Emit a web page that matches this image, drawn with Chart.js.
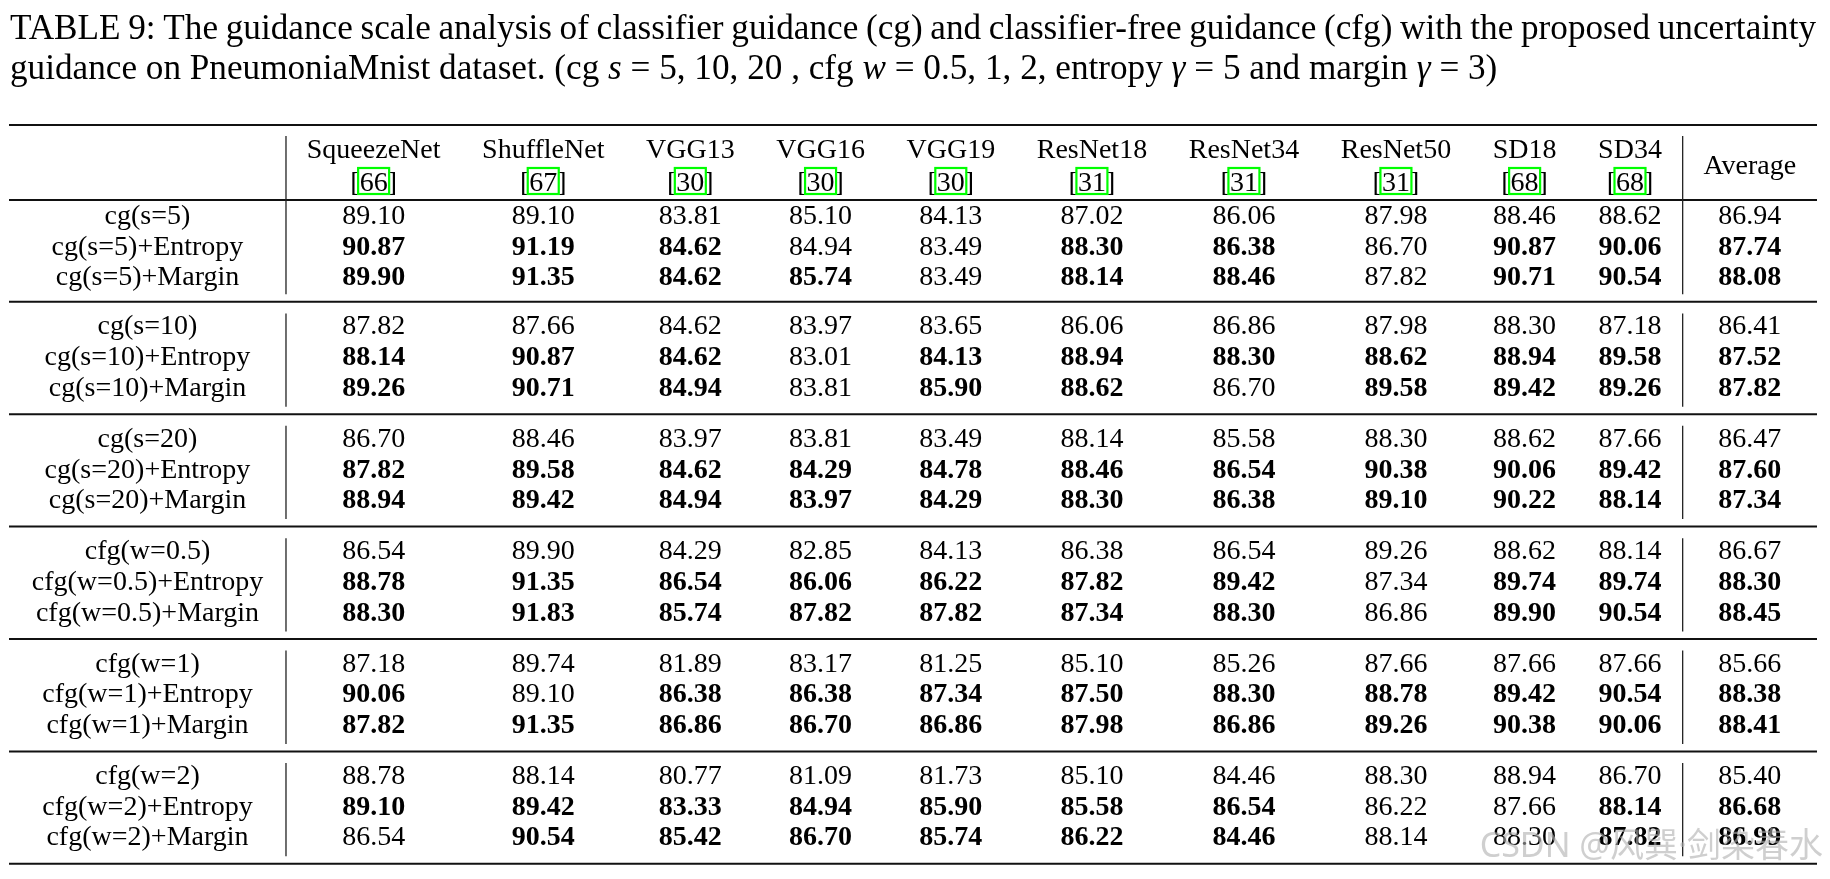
<!DOCTYPE html>
<html>
<head>
<meta charset="utf-8">
<script src="https://cdn.jsdelivr.net/npm/chart.js@4.4.1/dist/chart.umd.min.js"></script>
<style>
  html, body { margin: 0; padding: 0; background: #fff; }
  #wrap { width: 1830px; height: 879px; position: relative; }
</style>
</head>
<body>
<div id="wrap"><canvas id="tableChart"></canvas></div>
<script>
// Column headers: model name and citation number, then the average column
const models = ['SqueezeNet', 'ShuffleNet', 'VGG13', 'VGG16', 'VGG19', 'ResNet18', 'ResNet34', 'ResNet50', 'SD18', 'SD34'];
const refs = ['66', '67', '30', '30', '30', '31', '31', '31', '68', '68'];
const avgLabel = 'Average';

// Row labels, one group per guidance setting
const groupLabels = [
  ['cg(s=5)', 'cg(s=5)+Entropy', 'cg(s=5)+Margin'],
  ['cg(s=10)', 'cg(s=10)+Entropy', 'cg(s=10)+Margin'],
  ['cg(s=20)', 'cg(s=20)+Entropy', 'cg(s=20)+Margin'],
  ['cfg(w=0.5)', 'cfg(w=0.5)+Entropy', 'cfg(w=0.5)+Margin'],
  ['cfg(w=1)', 'cfg(w=1)+Entropy', 'cfg(w=1)+Margin'],
  ['cfg(w=2)', 'cfg(w=2)+Entropy', 'cfg(w=2)+Margin']
];

// Accuracy (%) for the 10 models, last value is the average
const cgS5 = [
  [89.10, 89.10, 83.81, 85.10, 84.13, 87.02, 86.06, 87.98, 88.46, 88.62, 86.94],
  [90.87, 91.19, 84.62, 84.94, 83.49, 88.30, 86.38, 86.70, 90.87, 90.06, 87.74],
  [89.90, 91.35, 84.62, 85.74, 83.49, 88.14, 88.46, 87.82, 90.71, 90.54, 88.08]
];
const cgS10 = [
  [87.82, 87.66, 84.62, 83.97, 83.65, 86.06, 86.86, 87.98, 88.30, 87.18, 86.41],
  [88.14, 90.87, 84.62, 83.01, 84.13, 88.94, 88.30, 88.62, 88.94, 89.58, 87.52],
  [89.26, 90.71, 84.94, 83.81, 85.90, 88.62, 86.70, 89.58, 89.42, 89.26, 87.82]
];
const cgS20 = [
  [86.70, 88.46, 83.97, 83.81, 83.49, 88.14, 85.58, 88.30, 88.62, 87.66, 86.47],
  [87.82, 89.58, 84.62, 84.29, 84.78, 88.46, 86.54, 90.38, 90.06, 89.42, 87.60],
  [88.94, 89.42, 84.94, 83.97, 84.29, 88.30, 86.38, 89.10, 90.22, 88.14, 87.34]
];
const cfgW05 = [
  [86.54, 89.90, 84.29, 82.85, 84.13, 86.38, 86.54, 89.26, 88.62, 88.14, 86.67],
  [88.78, 91.35, 86.54, 86.06, 86.22, 87.82, 89.42, 87.34, 89.74, 89.74, 88.30],
  [88.30, 91.83, 85.74, 87.82, 87.82, 87.34, 88.30, 86.86, 89.90, 90.54, 88.45]
];
const cfgW1 = [
  [87.18, 89.74, 81.89, 83.17, 81.25, 85.10, 85.26, 87.66, 87.66, 87.66, 85.66],
  [90.06, 89.10, 86.38, 86.38, 87.34, 87.50, 88.30, 88.78, 89.42, 90.54, 88.38],
  [87.82, 91.35, 86.86, 86.70, 86.86, 87.98, 86.86, 89.26, 90.38, 90.06, 88.41]
];
const cfgW2 = [
  [88.78, 88.14, 80.77, 81.09, 81.73, 85.10, 84.46, 88.30, 88.94, 86.70, 85.40],
  [89.10, 89.42, 83.33, 84.94, 85.90, 85.58, 86.54, 86.22, 87.66, 88.14, 86.68],
  [86.54, 90.54, 85.42, 86.70, 85.74, 86.22, 84.46, 88.14, 88.30, 87.82, 86.99]
];

// Column indices printed in bold, per row
const boldS5 = [[], [0, 1, 2, 5, 6, 8, 9, 10], [0, 1, 2, 3, 5, 6, 8, 9, 10]];
const boldS10 = [[], [0, 1, 2, 4, 5, 6, 7, 8, 9, 10], [0, 1, 2, 4, 5, 7, 8, 9, 10]];
const boldS20 = [[], [0, 1, 2, 3, 4, 5, 6, 7, 8, 9, 10], [0, 1, 2, 3, 4, 5, 6, 7, 8, 9, 10]];
const boldW05 = [[], [0, 1, 2, 3, 4, 5, 6, 8, 9, 10], [0, 1, 2, 3, 4, 5, 6, 8, 9, 10]];
const boldW1 = [[], [0, 2, 3, 4, 5, 6, 7, 8, 9, 10], [0, 1, 2, 3, 4, 5, 6, 7, 8, 9, 10]];
const boldW2 = [[], [0, 1, 2, 3, 4, 5, 6, 9, 10], [1, 2, 3, 4, 5, 6, 9, 10]];

const groupValues = [cgS5, cgS10, cgS20, cfgW05, cfgW1, cfgW2];
const groupBold = [boldS5, boldS10, boldS20, boldW05, boldW1, boldW2];

const titleLine1 = 'TABLE 9: The guidance scale analysis of classifier guidance (cg) and classifier-free guidance (cfg) with the proposed uncertainty';
// [text, italic]
const titleLine2 = [
  ['guidance on PneumoniaMnist dataset. (cg ', false], ['s', true], [' = 5, 10, 20 , cfg ', false], ['w', true],
  [' = 0.5, 1, 2, entropy ', false], ['\u03B3', true], [' = 5 and margin ', false], ['\u03B3', true], [' = 3)', false]
];
const watermark = 'CSDN @风巽·剑染春水';

// ---- layout (pixels) ----
const W = 1830, H = 879;
const SERIF = '"Liberation Serif", "Times New Roman", serif';
const FONT = 28;
const TABLE_LEFT = 9, TABLE_RIGHT = 1817;
const TOP_RULE = 125, HEADER_RULE = 200;
const ROW_PITCH = 30.7;
const FIRST_OFFSET = 24, FIRST_GROUP_H = 101.8;
const GROUP_OFFSET = 32.6, GROUP_TAIL = 18.4;
const LABEL_EXTRA = 4;

const measureCtx = document.createElement('canvas').getContext('2d');
function textWidth(str, size, style) {
  measureCtx.font = (style || '') + ' ' + size + 'px ' + SERIF;
  return measureCtx.measureText(str).width;
}

// column widths like a LaTeX tabular: widest cell + 2 * tabcolsep
const rowLabels = groupLabels.flat();
const colContent = [Math.max(...rowLabels.map(s => textWidth(s, FONT))) + LABEL_EXTRA];
models.forEach((m, j) => colContent.push(Math.max(textWidth(m, FONT), textWidth('[' + refs[j] + ']', FONT), textWidth('00.00', FONT, 'bold'))));
colContent.push(Math.max(textWidth(avgLabel, FONT), textWidth('00.00', FONT, 'bold')));
const colSep = (TABLE_RIGHT - TABLE_LEFT - colContent.reduce((a, b) => a + b, 0)) / (colContent.length * 2);
const colCenters = [], colRight = [];
let edge = TABLE_LEFT;
colContent.forEach(w => { colCenters.push(edge + colSep + w / 2); edge += w + 2 * colSep; colRight.push(edge); });

// row baselines and group rules
const rowBase = [], groupRules = [], groupSpan = [];
let ruleY = HEADER_RULE;
groupLabels.forEach((g, gi) => {
  const first = ruleY + (gi === 0 ? FIRST_OFFSET : GROUP_OFFSET);
  g.forEach((_, r) => rowBase.push(first + r * ROW_PITCH));
  const last = first + (g.length - 1) * ROW_PITCH;
  ruleY = gi === 0 ? HEADER_RULE + FIRST_GROUP_H : last + GROUP_TAIL;
  groupSpan.push([gi === 0 ? HEADER_RULE : first - 21, ruleY - 7.5]);
  groupRules.push(ruleY);
});

// one dataset per table row, a point per cell
const datasets = [];
groupValues.forEach((rows, gi) => {
  rows.forEach((vals, r) => {
    const rowIdx = gi * 3 + r;
    datasets.push({
      label: groupLabels[gi][r],
      data: vals.map((v, j) => ({ x: colCenters[j + 1], y: rowBase[rowIdx], v: v, bold: groupBold[gi][r].includes(j) })),
      pointRadius: 0
    });
  });
});

const tablePlugin = {
  id: 'tableText',
  afterDatasetsDraw(chart) {
    const { ctx } = chart;
    const xs = chart.scales.x, ys = chart.scales.y;
    const px = v => xs.getPixelForValue(v), py = v => ys.getPixelForValue(v);
    ctx.save();
    ctx.fillStyle = '#000';
    ctx.textBaseline = 'alphabetic';

    // caption: size fitted to the second line, first line justified
    let w2 = 0;
    titleLine2.forEach(([t, it]) => { w2 += textWidth(t, 100, it ? 'italic' : ''); });
    const tSize = 100 * 1488 / w2;
    let x = px(10);
    titleLine2.forEach(([t, it]) => {
      ctx.font = (it ? 'italic ' : '') + tSize + 'px ' + SERIF;
      ctx.textAlign = 'left';
      ctx.fillText(t, x, py(79));
      x += ctx.measureText(t).width;
    });
    const words = titleLine1.split(' ');
    ctx.font = tSize + 'px ' + SERIF;
    const wsum = words.reduce((a, w) => a + ctx.measureText(w).width, 0);
    const gap = (px(1816) - px(10) - wsum) / (words.length - 1);
    x = px(10);
    words.forEach(w => { ctx.fillText(w, x, py(39)); x += ctx.measureText(w).width + gap; });

    // horizontal rules
    ctx.strokeStyle = '#111';
    ctx.lineWidth = 2;
    [TOP_RULE, HEADER_RULE, ...groupRules].forEach(yv => {
      ctx.beginPath(); ctx.moveTo(px(TABLE_LEFT), py(yv)); ctx.lineTo(px(TABLE_RIGHT), py(yv)); ctx.stroke();
    });

    // vertical rules after the label column and before the average column
    const vx = [colRight[0], colRight[colRight.length - 2]];
    ctx.strokeStyle = '#222';
    ctx.lineWidth = 1.3;
    [[TOP_RULE + 11, HEADER_RULE], ...groupSpan].forEach(([a, b]) => {
      vx.forEach(xv => { ctx.beginPath(); ctx.moveTo(px(xv), py(a)); ctx.lineTo(px(xv), py(b)); ctx.stroke(); });
    });

    // header
    ctx.font = FONT + 'px ' + SERIF;
    ctx.textAlign = 'center';
    models.forEach((m, j) => ctx.fillText(m, px(colCenters[j + 1]), py(157.7)));
    ctx.fillText(avgLabel, px(colCenters[colCenters.length - 1]), py(174));
    ctx.textAlign = 'left';
    refs.forEach((r, j) => {
      const wl = ctx.measureText('[').width, wn = ctx.measureText(r).width, wr = ctx.measureText(']').width;
      const x0 = px(colCenters[j + 1]) - (wl + wn + wr) / 2;
      ctx.fillText('[', x0, py(191));
      ctx.fillText(r, x0 + wl, py(191));
      ctx.fillText(']', x0 + wl + wn, py(191));
      ctx.strokeStyle = '#00ff00';
      ctx.lineWidth = 2.2;
      ctx.strokeRect(x0 + wl - 1.5, py(191) - 23, wn + 3, 26);
    });

    // row labels
    ctx.textAlign = 'center';
    ctx.font = FONT + 'px ' + SERIF;
    rowLabels.forEach((l, i) => ctx.fillText(l, px(colCenters[0]), py(rowBase[i])));

    // cell values, placed at the dataset points
    chart.data.datasets.forEach((ds, i) => {
      const meta = chart.getDatasetMeta(i);
      meta.data.forEach((pt, j) => {
        const d = ds.data[j];
        ctx.font = (d.bold ? 'bold ' : '') + FONT + 'px ' + SERIF;
        ctx.fillText(d.v.toFixed(2), pt.x, pt.y);
      });
    });

    // watermark
    ctx.font = '34px "Noto Sans", "Noto Sans CJK SC", sans-serif';
    ctx.textAlign = 'right';
    ctx.fillStyle = 'rgba(175,175,175,0.6)';
    ctx.fillText(watermark, px(1823), py(857));
    ctx.restore();
  }
};

new Chart(document.getElementById('tableChart'), {
  type: 'scatter',
  data: { datasets: datasets },
  options: {
    responsive: true,
    maintainAspectRatio: false,
    animation: false,
    events: [],
    layout: { padding: 0 },
    plugins: { legend: { display: false }, tooltip: { enabled: false } },
    scales: {
      x: { type: 'linear', display: false, min: 0, max: W },
      y: { type: 'linear', display: false, min: 0, max: H, reverse: true }
    }
  },
  plugins: [tablePlugin]
});
</script>
</body>
</html>
